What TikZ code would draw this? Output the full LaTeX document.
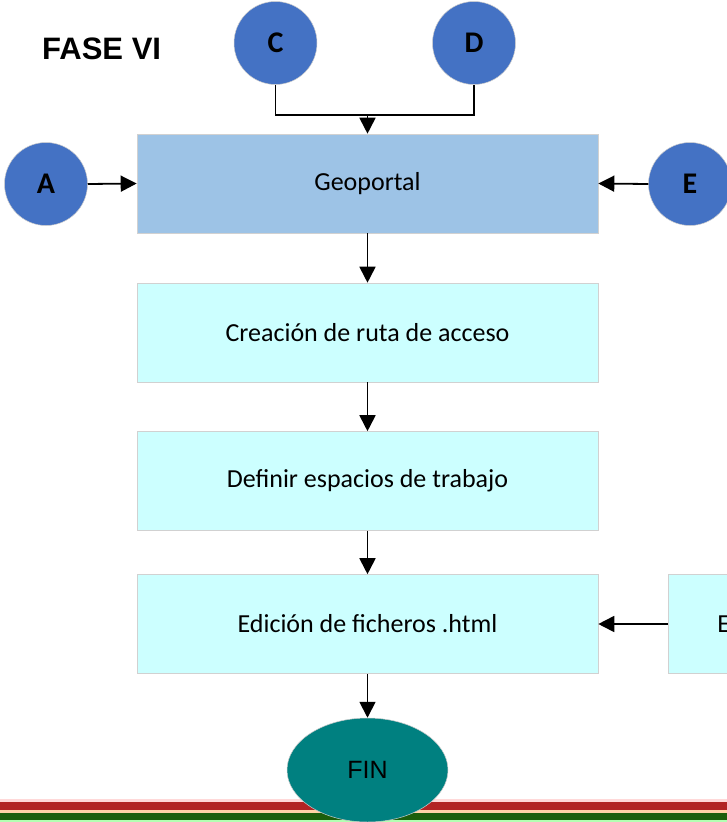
\documentclass[tikz,border=0pt]{standalone}
\usepackage{fontspec}
\setmainfont{Carlito}
\newfontfamily\arialf{Liberation Sans}
\usetikzlibrary{arrows.meta,shapes.geometric}
\definecolor{circblue}{HTML}{4472C4}
\definecolor{geoblue}{HTML}{9DC3E6}
\definecolor{lightcyan}{HTML}{CCFFFF}
\definecolor{tealfin}{HTML}{008080}
\definecolor{stripered}{HTML}{B22424}
\definecolor{stripegreen}{HTML}{1B5E0C}
\tikzset{
  conn/.style={line width=1.8pt,-{Triangle[length=16pt,width=16pt]}},
  plain/.style={line width=1.8pt},
  procbox/.style={draw=black!18,line width=0.6pt,fill=lightcyan,minimum width=461pt,minimum height=99pt,inner sep=0pt,font=\fontsize{26}{30}\selectfont},
  connector/.style={circle,draw=black!20,line width=0.5pt,fill=circblue,minimum size=83pt,inner sep=0pt,font=\bfseries\fontsize{30}{34}\selectfont},
}
\begin{document}
\begin{tikzpicture}[x=1pt,y=-1pt]
\useasboundingbox (0,0) rectangle (727,822);
% bottom stripes
\fill[red!15] (0,799) rectangle (727,802);
\fill[stripered] (0,802) rectangle (727,810);
\fill[orange!35!white] (0,810) rectangle (727,813);
\fill[stripegreen] (0,813) rectangle (727,820);
\fill[green!30!white] (0,820) rectangle (727,822);

\node[font=\arialf\bfseries\fontsize{31}{36}\selectfont,anchor=west,inner sep=0pt] (fase) at (42,49) {FASE VI};

\node[connector] (C) at (275.5,43) {C};
\node[connector] (D) at (474,43) {D};
\node[connector] (A) at (46,184) {A};
\node[connector] (E) at (690,184) {E};

\node[procbox,fill=geoblue] (geo) at (367.5,183.5) {Geoportal};
\node[procbox] (ruta) at (367.5,332.5) {Creación de ruta de acceso};
\node[procbox] (esp) at (367.5,481) {Definir espacios de trabajo};
\node[procbox] (html) at (367.5,624) {Edición de ficheros .html};
\node[procbox,anchor=west,minimum width=100pt,text width=90pt,align=left] (right) at (668,624) {\hspace*{44pt}E};

\node[ellipse,draw=black!20,line width=0.5pt,fill=tealfin,minimum width=161pt,minimum height=104pt,inner sep=0pt,font=\arialf\fontsize{25}{30}\selectfont] (fin) at (367.5,770) {FIN};

\coordinate (j) at (367.5,115);
\draw[plain] (C.south) |- (j) -| (D.south);
\draw[conn] (j) -- (geo.north);
\draw[conn] (A.east) -- (geo.west);
\draw[conn] (E.west) -- (geo.east);
\draw[conn] (geo) -- (ruta);
\draw[conn] (ruta) -- (esp);
\draw[conn] (esp) -- (html);
\draw[conn] (html) -- (fin);
\draw[conn] (right.west) -- (html.east);
\end{tikzpicture}
\end{document}
